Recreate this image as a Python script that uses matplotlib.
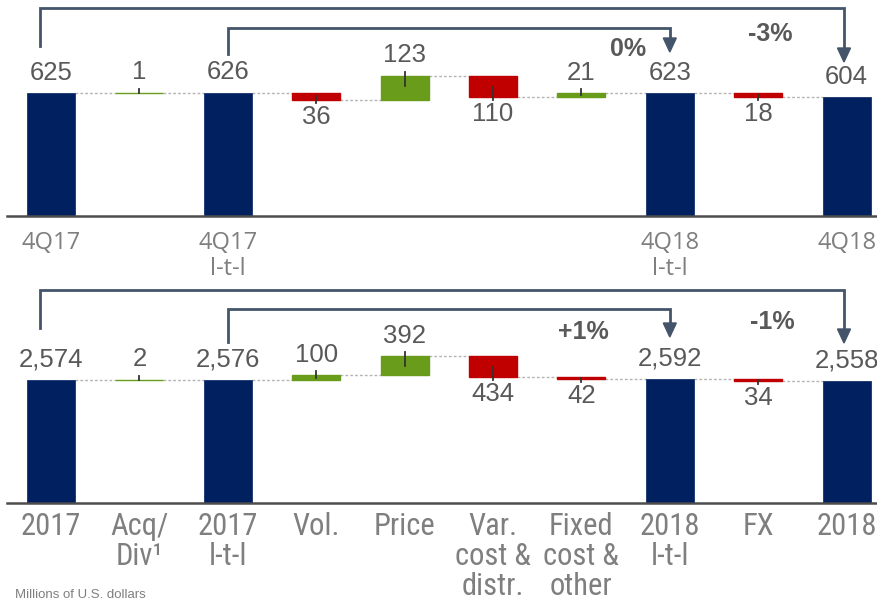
import matplotlib
matplotlib.use("Agg")
import matplotlib.pyplot as plt
from matplotlib.transforms import Affine2D, blended_transform_factory
from matplotlib.patches import Polygon
from matplotlib import font_manager as fm

# ---------------- data ----------------
top_categories = [["4Q17"], [], ["4Q17", "l-t-l"], [], [], [], [], ["4Q18", "l-t-l"], [], ["4Q18"]]
top_kinds = ["total", "delta", "total", "delta", "delta", "delta", "delta", "total", "delta", "total"]
top_values = [625, 1, 626, -36, 123, -110, 21, 623, -18, 604]
top_pct_labels = ["0%", "-3%"]

bot_categories = [["2017"], ["Acq/", "Div¹"], ["2017", "l-t-l"], ["Vol."], ["Price"],
                  ["Var.", "cost &", "distr."], ["Fixed", "cost &", "other"],
                  ["2018", "l-t-l"], ["FX"], ["2018"]]
bot_kinds = top_kinds
bot_values = [2574, 2, 2576, 100, 392, -434, -42, 2592, -34, 2558]
bot_pct_labels = ["+1%", "-1%"]

unit_note = "Millions of U.S. dollars"

# ---------------- style ----------------
W, H = 878, 601
NAVY = "#002060"
GREEN = "#6a9c1c"
RED = "#c00000"
TXT = "#595959"
CAT = "#7f7f7f"
BRK = "#44546a"

names = {f.name for f in fm.fontManager.ttflist}
NARROW = None
for cand in ["Liberation Sans Narrow", "Roboto Condensed", "Open Sans Condensed",
             "DejaVu Sans Condensed"]:
    if cand in names:
        NARROW = cand
        break
if NARROW is None:
    NARROW = "Liberation Sans"
narrow_size = 22 if NARROW != "Liberation Sans" else 18.5

fig = plt.figure(figsize=(W / 100, H / 100), dpi=100)
px = Affine2D().scale(1, -1).translate(0, H)  # y in pixels from the top

X0, DX = 51, 88.4
BW = 0.543


def xd(xpix):
    return (xpix - X0) / DX


def panel(values, kinds, cats, base, top, full_val, pct_labels, pct_pos,
          brackets, cat_font, cat_size, cat_color, cat_base, cat_step):
    scale = 123.0 / full_val
    ax = fig.add_axes([0, (H - base) / H, 1, (base - top) / H])
    ax.set_xlim(xd(0), xd(W))
    ax.set_ylim(0, (base - top) / scale)
    ax.axis("off")
    tr = blended_transform_factory(ax.transData, px)
    ypx = lambda v: base - v * scale

    levels = []
    running = 0
    for i, (v, k) in enumerate(zip(values, kinds)):
        if k == "total":
            ax.bar(i, v, width=BW, color=NAVY, edgecolor=NAVY, lw=0.5, zorder=3)
            running = v
            ax.text(i, ypx(v) - 13.5, f"{v:,}", transform=tr, ha="center", va="baseline",
                    fontsize=18.5, color=TXT, family="Liberation Sans")
        else:
            start = running
            end = running + v
            lo, hi = min(start, end), max(start, end)
            col = GREEN if v > 0 else RED
            ax.bar(i, hi - lo, bottom=lo, width=BW, color=col, edgecolor=col, lw=1, zorder=3)
            hpx = (hi - lo) * scale
            inside = min(10, 0.5 * hpx)
            y_end = ypx(end)
            if v > 0:
                ax.plot([i, i], [y_end - 4, y_end + inside], transform=tr, color="#333333",
                        lw=1.3, zorder=4, clip_on=False)
                ax.text(i, y_end - 13.5, f"{abs(v):,}", transform=tr, ha="center",
                        va="baseline", fontsize=18.5, color=TXT, family="Liberation Sans")
            else:
                ax.plot([i, i], [y_end + 3, y_end - inside], transform=tr, color="#333333",
                        lw=1.3, zorder=4, clip_on=False)
                ax.text(i, y_end + 24, f"{abs(v):,}", transform=tr, ha="center",
                        va="baseline", fontsize=18.5, color=TXT, family="Liberation Sans")
            running = end
        levels.append(running)

    # dotted connectors
    for i in range(len(values) - 1):
        ax.plot([i + BW / 2, i + 1 - BW / 2], [levels[i], levels[i]], color="#b4b4b4",
                lw=1, ls=(0, (2, 1.5)), zorder=2)

    # baseline
    ax.plot([xd(7), xd(W)], [base, base], transform=tr, color="#4d4d4d", lw=1.8,
            clip_on=False, zorder=5)

    # category labels
    for i, lines in enumerate(cats):
        for j, s in enumerate(lines):
            ax.text(i, cat_base + j * cat_step, s, transform=tr, ha="center", va="baseline",
                    fontsize=cat_size, color=cat_color, family=[cat_font, "DejaVu Sans"])

    # brackets with arrows
    for (xs, ys, xe, ylev, ytip) in brackets:
        ax.plot([xs, xs, xe, xe], [ys, ylev, ylev, ytip - 12], transform=tr, color=BRK,
                lw=2, clip_on=False, zorder=6, solid_joinstyle="miter")
        hw = 6.5 / DX
        tri = Polygon([[xe - hw, ytip - 14], [xe + hw, ytip - 14], [xe, ytip]], closed=True,
                      transform=tr, color=BRK, clip_on=False, zorder=6)
        ax.add_patch(tri)

    for s, (x, y) in zip(pct_labels, pct_pos):
        ax.text(x, y, s, transform=tr, ha="center", va="center", fontsize=18,
                fontweight="bold", color=TXT, family="Liberation Sans")
    return ax


panel(top_values, top_kinds, top_categories, base=216, top=0, full_val=625,
      pct_labels=top_pct_labels, pct_pos=[(xd(628), 49), (xd(770), 34)],
      brackets=[(xd(40), 46, xd(844), 8, 62), (2, 54, 7, 28, 52)],
      cat_font="Open Sans", cat_size=17, cat_color=CAT, cat_base=249, cat_step=26)

panel(bot_values, bot_kinds, bot_categories, base=503, top=283, full_val=2574,
      pct_labels=bot_pct_labels, pct_pos=[(xd(583), 332), (xd(772), 322)],
      brackets=[(xd(40), 328, xd(844), 290, 343), (2, 342, 7, 309, 337)],
      cat_font=NARROW, cat_size=narrow_size, cat_color=CAT, cat_base=535, cat_step=30)

fig.text(15 / W, 1 - 598 / H, unit_note, ha="left", va="baseline", fontsize=9.5,
         color=CAT, family="Liberation Sans")

fig.savefig("out.png", dpi=100)
